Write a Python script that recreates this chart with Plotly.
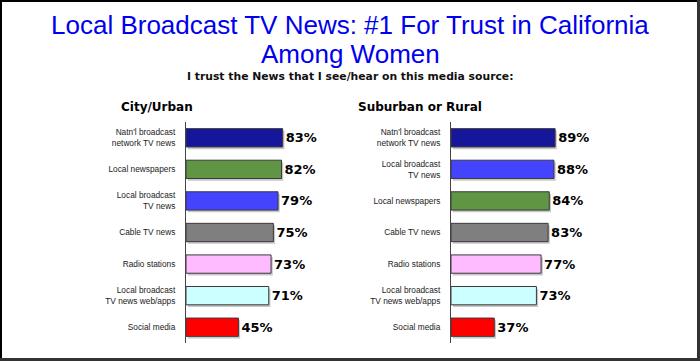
import plotly.graph_objects as go

# ---- data ----
urban_labels = ["Natn'l broadcast<br>network TV news", "Local newspapers", "Local broadcast<br>TV news",
                "Cable TV news", "Radio stations", "Local broadcast<br>TV news web/apps", "Social media"]
urban_values = [83, 82, 79, 75, 73, 71, 45]
urban_colors = ["#16169A", "#5F9543", "#4444FF", "#7F7F7F", "#FFBBFF", "#CCFFFF", "#FF0000"]

rural_labels = ["Natn'l broadcast<br>network TV news", "Local broadcast<br>TV news", "Local newspapers",
                "Cable TV news", "Radio stations", "Local broadcast<br>TV news web/apps", "Social media"]
rural_values = [89, 88, 84, 83, 77, 73, 37]
rural_colors = ["#16169A", "#4444FF", "#5F9543", "#7F7F7F", "#FFBBFF", "#CCFFFF", "#FF0000"]

title_line1 = "Local Broadcast TV News: #1 For Trust in California"
title_line2 = "Among Women"
subtitle = "I trust the News that I see/hear on this media source:"
panel_titles = ["City/Urban", "Suburban or Rural"]

W, H = 700, 361
BAR_W = 0.58

fig = go.Figure()

def add_panel(labels, values, colors, xa, ya):
    # soft drop shadow
    fig.add_trace(go.Bar(
        y=labels, x=values, orientation="h", base=1.5,
        marker=dict(color="#C8C8C8", line=dict(width=0)),
        width=BAR_W, offset=-BAR_W / 2 + 0.07,
        xaxis=xa, yaxis=ya, showlegend=False, hoverinfo="skip",
    ))
    fig.add_trace(go.Bar(
        y=labels, x=values, orientation="h",
        marker=dict(color=colors, line=dict(color="#3a3a3a", width=1)),
        width=BAR_W, offset=-BAR_W / 2,
        text=[f"{v}%" for v in values], textposition="outside",
        textfont=dict(family="DejaVu Sans", size=13, color="#000000", weight="bold"),
        cliponaxis=False, xaxis=xa, yaxis=ya, showlegend=False, hoverinfo="skip",
    ))

add_panel(urban_labels, urban_values, urban_colors, "x", "y")
add_panel(rural_labels, rural_values, rural_colors, "x2", "y2")

ydom = [1 - 343 / H, 1 - 122 / H]
tickfont = dict(family="Liberation Sans", size=8.3, color="#222222")
yax_common = dict(domain=ydom, autorange="reversed", showline=True, linecolor="#444444", linewidth=1,
                  showgrid=False, zeroline=False, ticks="", tickfont=tickfont, ticklabelstandoff=8,
                  fixedrange=True)

fig.update_layout(
    width=W, height=H, margin=dict(l=0, r=0, t=0, b=0),
    paper_bgcolor="white", plot_bgcolor="white",
    barmode="overlay",
    xaxis=dict(domain=[186 / W, 302.5 / W], range=[0, 100], visible=False, fixedrange=True),
    yaxis=dict(**yax_common, anchor="x"),
    xaxis2=dict(domain=[451 / W, 568 / W], range=[0, 100], visible=False, fixedrange=True),
    yaxis2=dict(**yax_common, anchor="x2"),
)

ann = [
    dict(text=title_line1, x=0.5, y=1 - 25 / H, font=dict(family="Liberation Sans", size=26, color="#0000EE")),
    dict(text=title_line2, x=0.5, y=1 - 54 / H, font=dict(family="Liberation Sans", size=26, color="#0000EE")),
    dict(text=subtitle, x=0.5, y=1 - 76 / H, font=dict(family="DejaVu Sans", size=10.8, color="#111111", weight="bold")),
    dict(text=panel_titles[0], x=157 / W, y=1 - 107 / H, font=dict(family="DejaVu Sans", size=12, color="#000000", weight="bold")),
    dict(text=panel_titles[1], x=420 / W, y=1 - 107 / H, font=dict(family="DejaVu Sans", size=12, color="#000000", weight="bold")),
]
for a in ann:
    fig.add_annotation(xref="paper", yref="paper", showarrow=False, xanchor="center", yanchor="middle", **a)

# frame
fig.add_shape(type="rect", xref="paper", yref="paper", x0=0, y0=0, x1=1, y1=1,
              line=dict(color="black", width=4), layer="above")
fig.add_shape(type="line", xref="paper", yref="paper", x0=0, y0=0, x1=1, y1=0,
              line=dict(color="#333333", width=6), layer="above")
fig.add_shape(type="line", xref="paper", yref="paper", x0=1, y0=0, x1=1, y1=1,
              line=dict(color="#333333", width=6), layer="above")

fig.write_html("out.html", config={"displayModeBar": False},
               post_script="document.body.style.margin='0';document.body.style.overflow='hidden';")
